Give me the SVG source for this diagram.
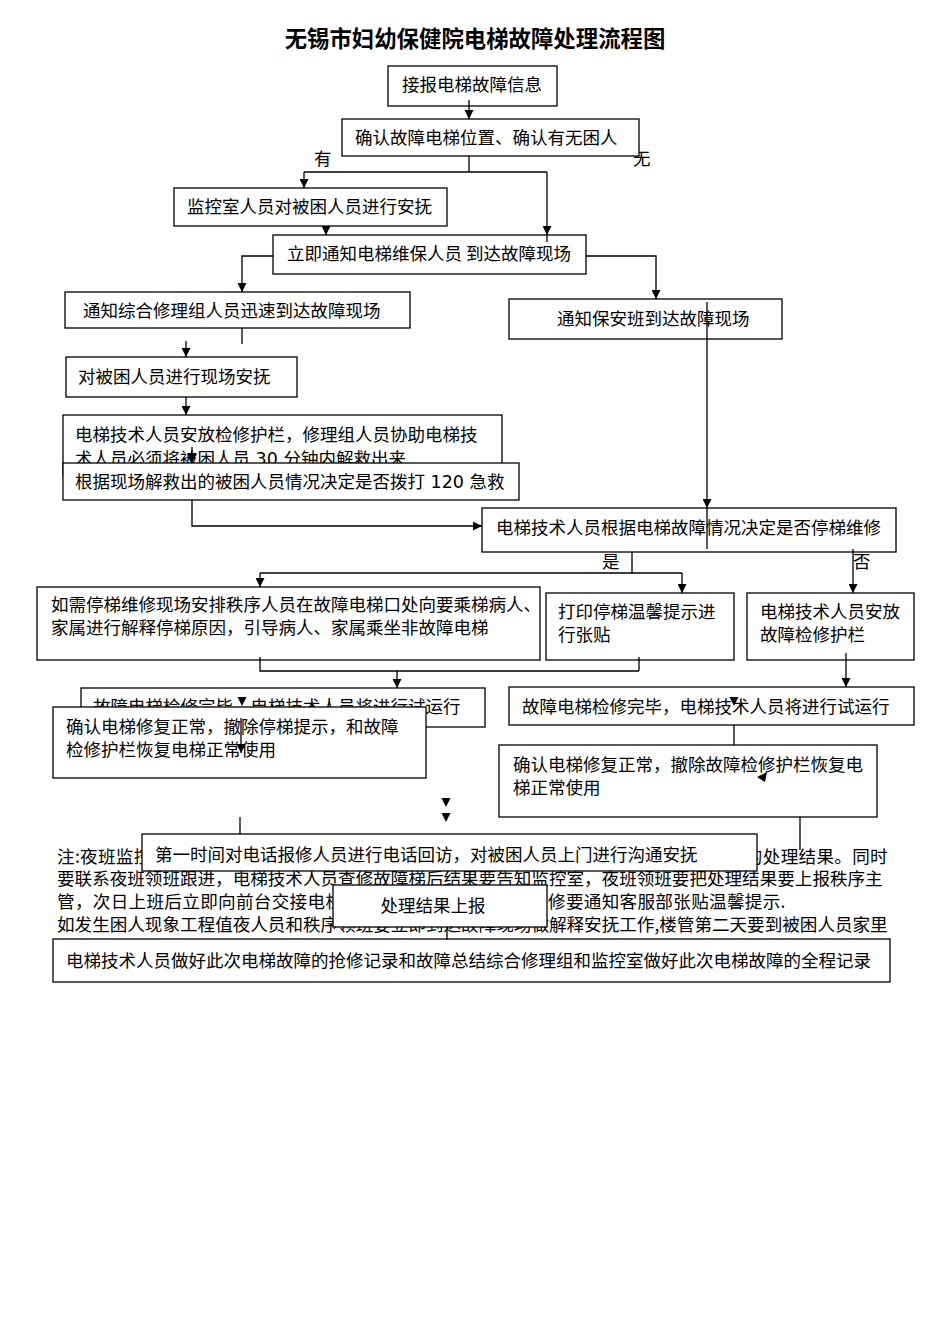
<svg xmlns="http://www.w3.org/2000/svg" width="950" height="1344" viewBox="0 0 950 1344">
<style>
text{font-family:"Noto Sans CJK SC","Noto Sans",sans-serif;fill:#000}
.t{font-size:17.5px}
.d{font-family:"DejaVu Sans","Noto Sans CJK SC",sans-serif}
.title{font-size:22.4px;font-weight:bold}
.note{font-size:17.6px;letter-spacing:0.3px}
.box{fill:#fff;stroke:#000;stroke-width:1.3}
.c{fill:none;stroke:#000;stroke-width:1.3}
.a{fill:none;stroke:#000;stroke-width:1.3;marker-end:url(#ah)}
.h{fill:#000;stroke:none}
</style>
<defs>
<marker id="ah" viewBox="0 0 10 10" refX="10" refY="5" markerWidth="9" markerHeight="9" markerUnits="userSpaceOnUse" orient="auto">
<path d="M0,0 L10,5 L0,10 z" fill="#000"/>
</marker>
</defs>
<rect width="950" height="1344" fill="#fff"/>
<text class="title" x="475" y="47" text-anchor="middle">无锡市妇幼保健院电梯故障处理流程图</text>

<g id="labels">
<text class="t" x="314" y="165">有</text>
<text class="t" x="633" y="165">无</text>
<text class="t" x="602" y="568">是</text>
<text class="t" x="853" y="568">否</text>
</g>

<g id="note">
<text class="note" x="57" y="863">注:夜班监控</text>
<text class="note" x="888" y="863" text-anchor="end">的处理结果。同时</text>
<text class="note" x="57" y="885" textLength="826" lengthAdjust="spacing">要联系夜班领班跟进，电梯技术人员查修故障梯后结果要告知监控室，夜班领班要把处理结果要上报秩序主</text>
<text class="note" x="57" y="908">管，次日上班后立即向前台交接电梯</text>
<text class="note" x="548" y="908">修要通知客服部张贴温馨提示.</text>
<text class="note" x="57" y="931" textLength="831" lengthAdjust="spacing">如发生困人现象工程值夜人员和秩序领班要立即到达故障现场做解释安抚工作,楼管第二天要到被困人员家里</text>
</g>

<g id="n1"><rect class="box" x="388" y="66" width="169" height="40"/><text class="t" x="402" y="91">接报电梯故障信息</text></g>
<g id="n2"><rect class="box" x="342" y="119" width="297" height="37"/><text class="t" x="355" y="144">确认故障电梯位置、确认有无困人</text></g>
<g id="n3"><rect class="box" x="174" y="188" width="273" height="38"/><text class="t" x="187" y="213">监控室人员对被困人员进行安抚</text></g>
<g id="n4"><rect class="box" x="273" y="235" width="313" height="39"/><text class="t" x="287" y="260">立即通知电梯维保人员 到达故障现场</text></g>
<g id="n5"><rect class="box" x="65" y="292" width="345" height="36"/><text class="t" x="83" y="317">通知综合修理组人员迅速到达故障现场</text></g>
<g id="n6"><rect class="box" x="509" y="299" width="273" height="40"/><text class="t" x="557" y="325">通知保安班到达故障现场</text></g>
<g id="n7"><rect class="box" x="66" y="357" width="231" height="40"/><text class="t" x="78" y="383">对被困人员进行现场安抚</text></g>
<g id="n8"><rect class="box" x="63" y="415" width="439" height="60"/><text class="t" x="75" y="441">电梯技术人员安放检修护栏，修理组人员协助电梯技</text><text class="t" x="75" y="465">术人员必须将被困人员<tspan class="d"> 30 </tspan>分钟内解救出来</text></g>
<g id="n9"><rect class="box" x="63" y="463" width="456" height="37"/><text class="t" x="75" y="488">根据现场解救出的被困人员情况决定是否拨打<tspan class="d"> 120 </tspan>急救</text></g>
<g id="n10"><rect class="box" x="482" y="508" width="414" height="44"/><text class="t" x="496" y="534">电梯技术人员根据电梯故障情况决定是否停梯维修</text></g>
<g id="n11"><rect class="box" x="37" y="587" width="503" height="73"/><text class="t" x="51" y="611">如需停梯维修现场安排秩序人员在故障电梯口处向要乘梯病人、</text><text class="t" x="51" y="634">家属进行解释停梯原因，引导病人、家属乘坐非故障电梯</text></g>
<g id="n12"><rect class="box" x="546" y="593" width="188" height="67"/><text class="t" x="558" y="618">打印停梯温馨提示进</text><text class="t" x="558" y="641">行张贴</text></g>
<g id="n13"><rect class="box" x="747" y="593" width="167" height="67"/><text class="t" x="760" y="618">电梯技术人员安放</text><text class="t" x="760" y="641">故障检修护栏</text></g>
<g id="n14"><rect class="box" x="81" y="688" width="404" height="39"/><text class="t" x="93" y="713">故障电梯检修完毕，电梯技术人员将进行试运行</text></g>
<g id="n15"><rect class="box" x="53" y="707" width="373" height="71"/><text class="t" x="66" y="733">确认电梯修复正常，撤除停梯提示，和故障</text><text class="t" x="66" y="756">检修护栏恢复电梯正常使用</text></g>
<g id="n16"><rect class="box" x="509" y="687" width="405" height="38"/><text class="t" x="522" y="713">故障电梯检修完毕，电梯技术人员将进行试运行</text></g>
<g id="n17"><rect class="box" x="499" y="745" width="378" height="72"/><text class="t" x="513" y="771">确认电梯修复正常，撤除故障检修护栏恢复电</text><text class="t" x="513" y="794">梯正常使用</text></g>
<g id="n18"><rect class="box" x="142" y="834" width="615" height="37"/><text class="t" x="155" y="861">第一时间对电话报修人员进行电话回访，对被困人员上门进行沟通安抚</text></g>
<g id="n19"><rect class="box" x="333" y="885" width="214" height="42"/><text class="t" x="433" y="912" text-anchor="middle">处理结果上报</text></g>
<g id="n20"><rect class="box" x="53" y="939" width="837" height="43"/><text class="t" x="66" y="967">电梯技术人员做好此次电梯故障的抢修记录和故障总结综合修理组和监控室做好此次电梯故障的全程记录</text></g>

<g id="connectors">
<path class="a" d="M469,100 V119"/>
<path class="c" d="M469,156 V172 M304,172 H547"/>
<path class="a" d="M304,172 V188"/>
<path class="a" d="M547,172 V235"/>
<path class="c" d="M547,235 V242"/>
<path class="a" d="M326,226 V235"/>
<path class="a" d="M273,256 H242 V292"/>
<path class="a" d="M586,256 H656 V299"/>
<path class="c" d="M242,328 V344"/>
<path class="a" d="M186,341 V357"/>
<path class="a" d="M186,397 V415"/>
<path class="a" d="M192,447 V463"/>
<path class="a" d="M192,500 V526 H482"/>
<path class="a" d="M707,302 V508"/>
<path class="c" d="M707,508 V549"/>
<path class="c" d="M632,552 V573 M260,573 H682"/>
<path class="a" d="M260,573 V587"/>
<path class="a" d="M682,573 V593"/>
<path class="a" d="M853,549 V593"/>
<path class="c" d="M260,657 V671 H639 M639,657 V671"/>
<path class="a" d="M397,671 V688"/>
<path class="a" d="M846,653 V687"/>
<polygon class="h" points="237.5,697 246.5,697 242,706"/>
<path class="a" d="M241,718 V753"/>
<polygon class="h" points="729.5,697 738.5,697 734,706"/>
<path class="c" d="M734,725 V745"/>
<polygon class="h" points="757,777 767,772 765,782"/>
<path class="c" d="M800,817 V850"/>
<polygon class="h" points="441.5,798 450.5,798 446,807"/>
<polygon class="h" points="441.5,813 450.5,813 446,822"/>
<path class="c" d="M240,817 V834"/>
<path class="c" d="M447,927 V940"/>
</g>
</svg>
